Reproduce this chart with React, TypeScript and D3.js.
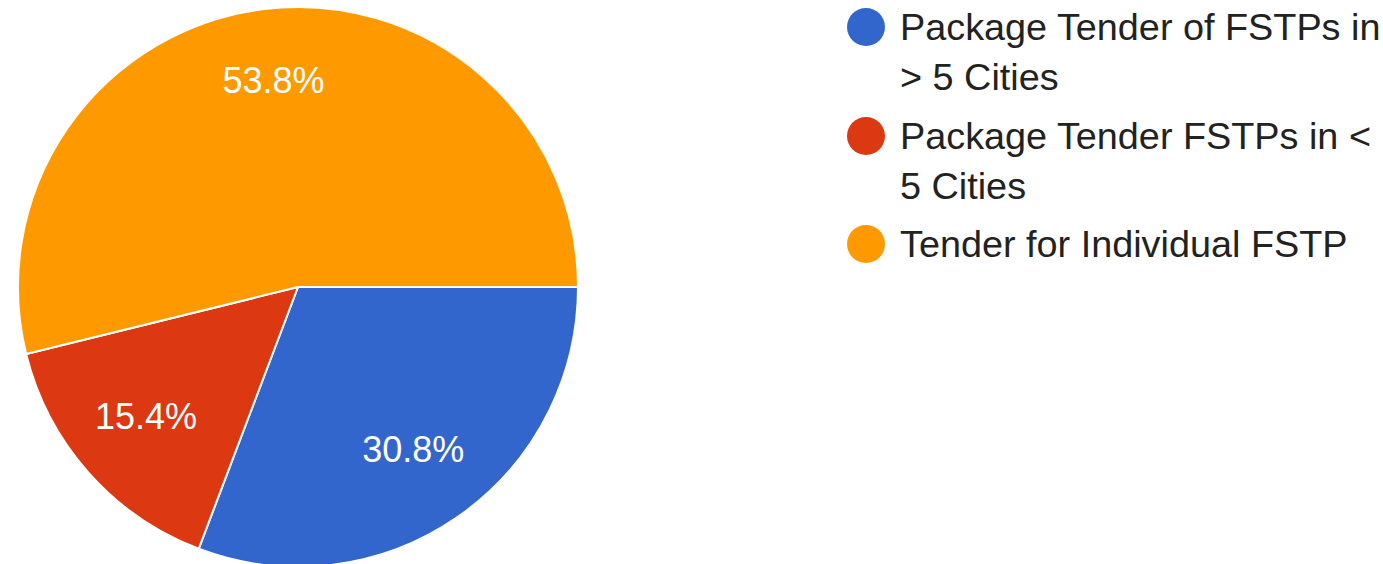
import React from "react";
import * as d3 from "d3";

const categories = [
  "Package Tender of FSTPs in > 5 Cities",
  "Package Tender FSTPs in < 5 Cities",
  "Tender for Individual FSTP",
];
const legendLines = [
  ["Package Tender of FSTPs in", "> 5 Cities"],
  ["Package Tender FSTPs in <", "5 Cities"],
  ["Tender for Individual FSTP"],
];
const values = [4, 2, 7];
const colors = ["#3366CC", "#DC3912", "#FF9900"];

const W = 1383;
const H = 564;
const cx = 298;
const cy = 287;
const R = 280;
const FONT = "Arial, 'Liberation Sans', sans-serif";

export default function App() {
  const total = d3.sum(values);
  const pie = d3
    .pie<number>()
    .sort(null)
    .startAngle(Math.PI / 2)
    .endAngle(Math.PI / 2 + 2 * Math.PI)(values);
  const arc = d3.arc<d3.PieArcDatum<number>>().innerRadius(0).outerRadius(R);
  const labelArc = d3
    .arc<d3.PieArcDatum<number>>()
    .innerRadius(R * 0.725)
    .outerRadius(R * 0.725);
  const fmt = d3.format(".1%");

  const legendX = 866;
  const itemTops = [27, 136, 244];
  const lineH = 50;

  return (
    <svg
      width={W}
      height={H}
      style={{ position: "absolute", left: 0, top: 0, background: "#fff" }}
      fontFamily={FONT}
    >
      <g transform={`translate(${cx},${cy})`}>
        {pie.map((d, i) => (
          <path key={i} d={arc(d) || ""} fill={colors[i]} stroke="#fff" strokeWidth={2} />
        ))}
        {pie.map((d, i) => {
          const [x, y] = labelArc.centroid(d);
          return (
            <text
              key={"l" + i}
              x={x}
              y={y - 5}
              fill="#fff"
              fontSize={36}
              textAnchor="middle"
              dominantBaseline="central"
            >
              {fmt(d.value / total)}
            </text>
          );
        })}
      </g>
      <g>
        {legendLines.map((lines, i) => (
          <g key={i}>
            <circle cx={legendX} cy={itemTops[i]} r={19} fill={colors[i]} />
            {lines.map((ln, j) => (
              <text
                key={j}
                x={900}
                y={itemTops[i] + j * lineH}
                fontSize={37.8}
                fill="#222"
                dominantBaseline="central"
              >
                {ln}
              </text>
            ))}
          </g>
        ))}
      </g>
    </svg>
  );
}
